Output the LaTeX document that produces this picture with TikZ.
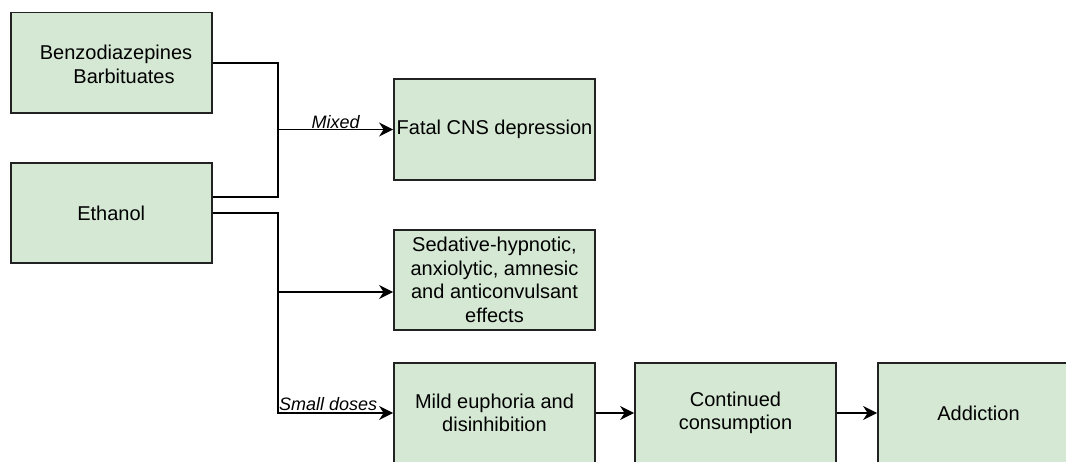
\documentclass[tikz,border=0pt]{standalone}
\usepackage{fontspec}
\setmainfont{Liberation Sans}
\usetikzlibrary{arrows.meta,calc}
\definecolor{boxfill}{HTML}{D5E8D4}
\definecolor{boxline}{HTML}{222222}
\begin{document}
\begin{tikzpicture}[x=1pt,y=-1pt,
  box/.style={draw=boxline,fill=boxfill,line width=1.8pt,minimum width=201pt,minimum height=100.5pt,
    inner sep=0pt,align=center,font=\fontsize{20pt}{23.5pt}\selectfont},
  conn/.style={draw=black,line width=1.8pt},
  arr/.style={conn,-{Stealth[length=14pt,width=14pt,inset=4.5pt]}},
  lbl/.style={font=\fontsize{18pt}{21pt}\selectfont\itshape,inner sep=0pt}]
\clip (0,0) rectangle (1066,462);
\useasboundingbox (0,0) rectangle (1066,462);
\fill[white] (0,0) rectangle (1066,462);
% boxes
\node[box] (benzo) at (111.2,62.8) {};
\node[font=\fontsize{20pt}{24pt}\selectfont,align=center,inner sep=0pt] (benzotxt) at (116,64) {Benzodiazepines\\\hspace{16pt}Barbituates};
\node[box] (ethanol) at (111.2,213) {Ethanol};
\node[box] (fatal) at (494.5,129.5) {Fatal CNS depression};
\node[box] (sed) at (494.5,280) {Sedative-hypnotic,\\anxiolytic, amnesic\\and anticonvulsant\\effects};
\node[box] (mild) at (494.5,413) {Mild euphoria and\\disinhibition};
\node[box] (cont) at (735.5,413) {Continued\\consumption};
\node[box] (addict) at (978.5,413) {Addiction};
% junction coordinates
\coordinate (eup) at ([yshift=16pt]ethanol.east);
\coordinate (j1) at (278,129.5);
\coordinate (j2) at (278,292);
\coordinate (j3) at (278,413);
% connectors
\draw[conn] (benzo.east) -| (j1);
\draw[conn] (eup) -| (j1);
\draw[arr] (j1) -- node[lbl,above,xshift=0pt] (lmixed) {Mixed} (fatal.west);
\draw[conn] (ethanol.east) -| (j2);
\draw[arr] (j2) -- (j2 -| sed.west);
\draw[arr] (j2) -- (j3) -- (mild.west);
\node[lbl,anchor=south west] (lsmall) at ([xshift=1pt,yshift=2pt]j3) {Small doses};
\draw[arr] (mild.east) -- (cont.west);
\draw[arr] (cont.east) -- (addict.west);
\end{tikzpicture}
\end{document}
